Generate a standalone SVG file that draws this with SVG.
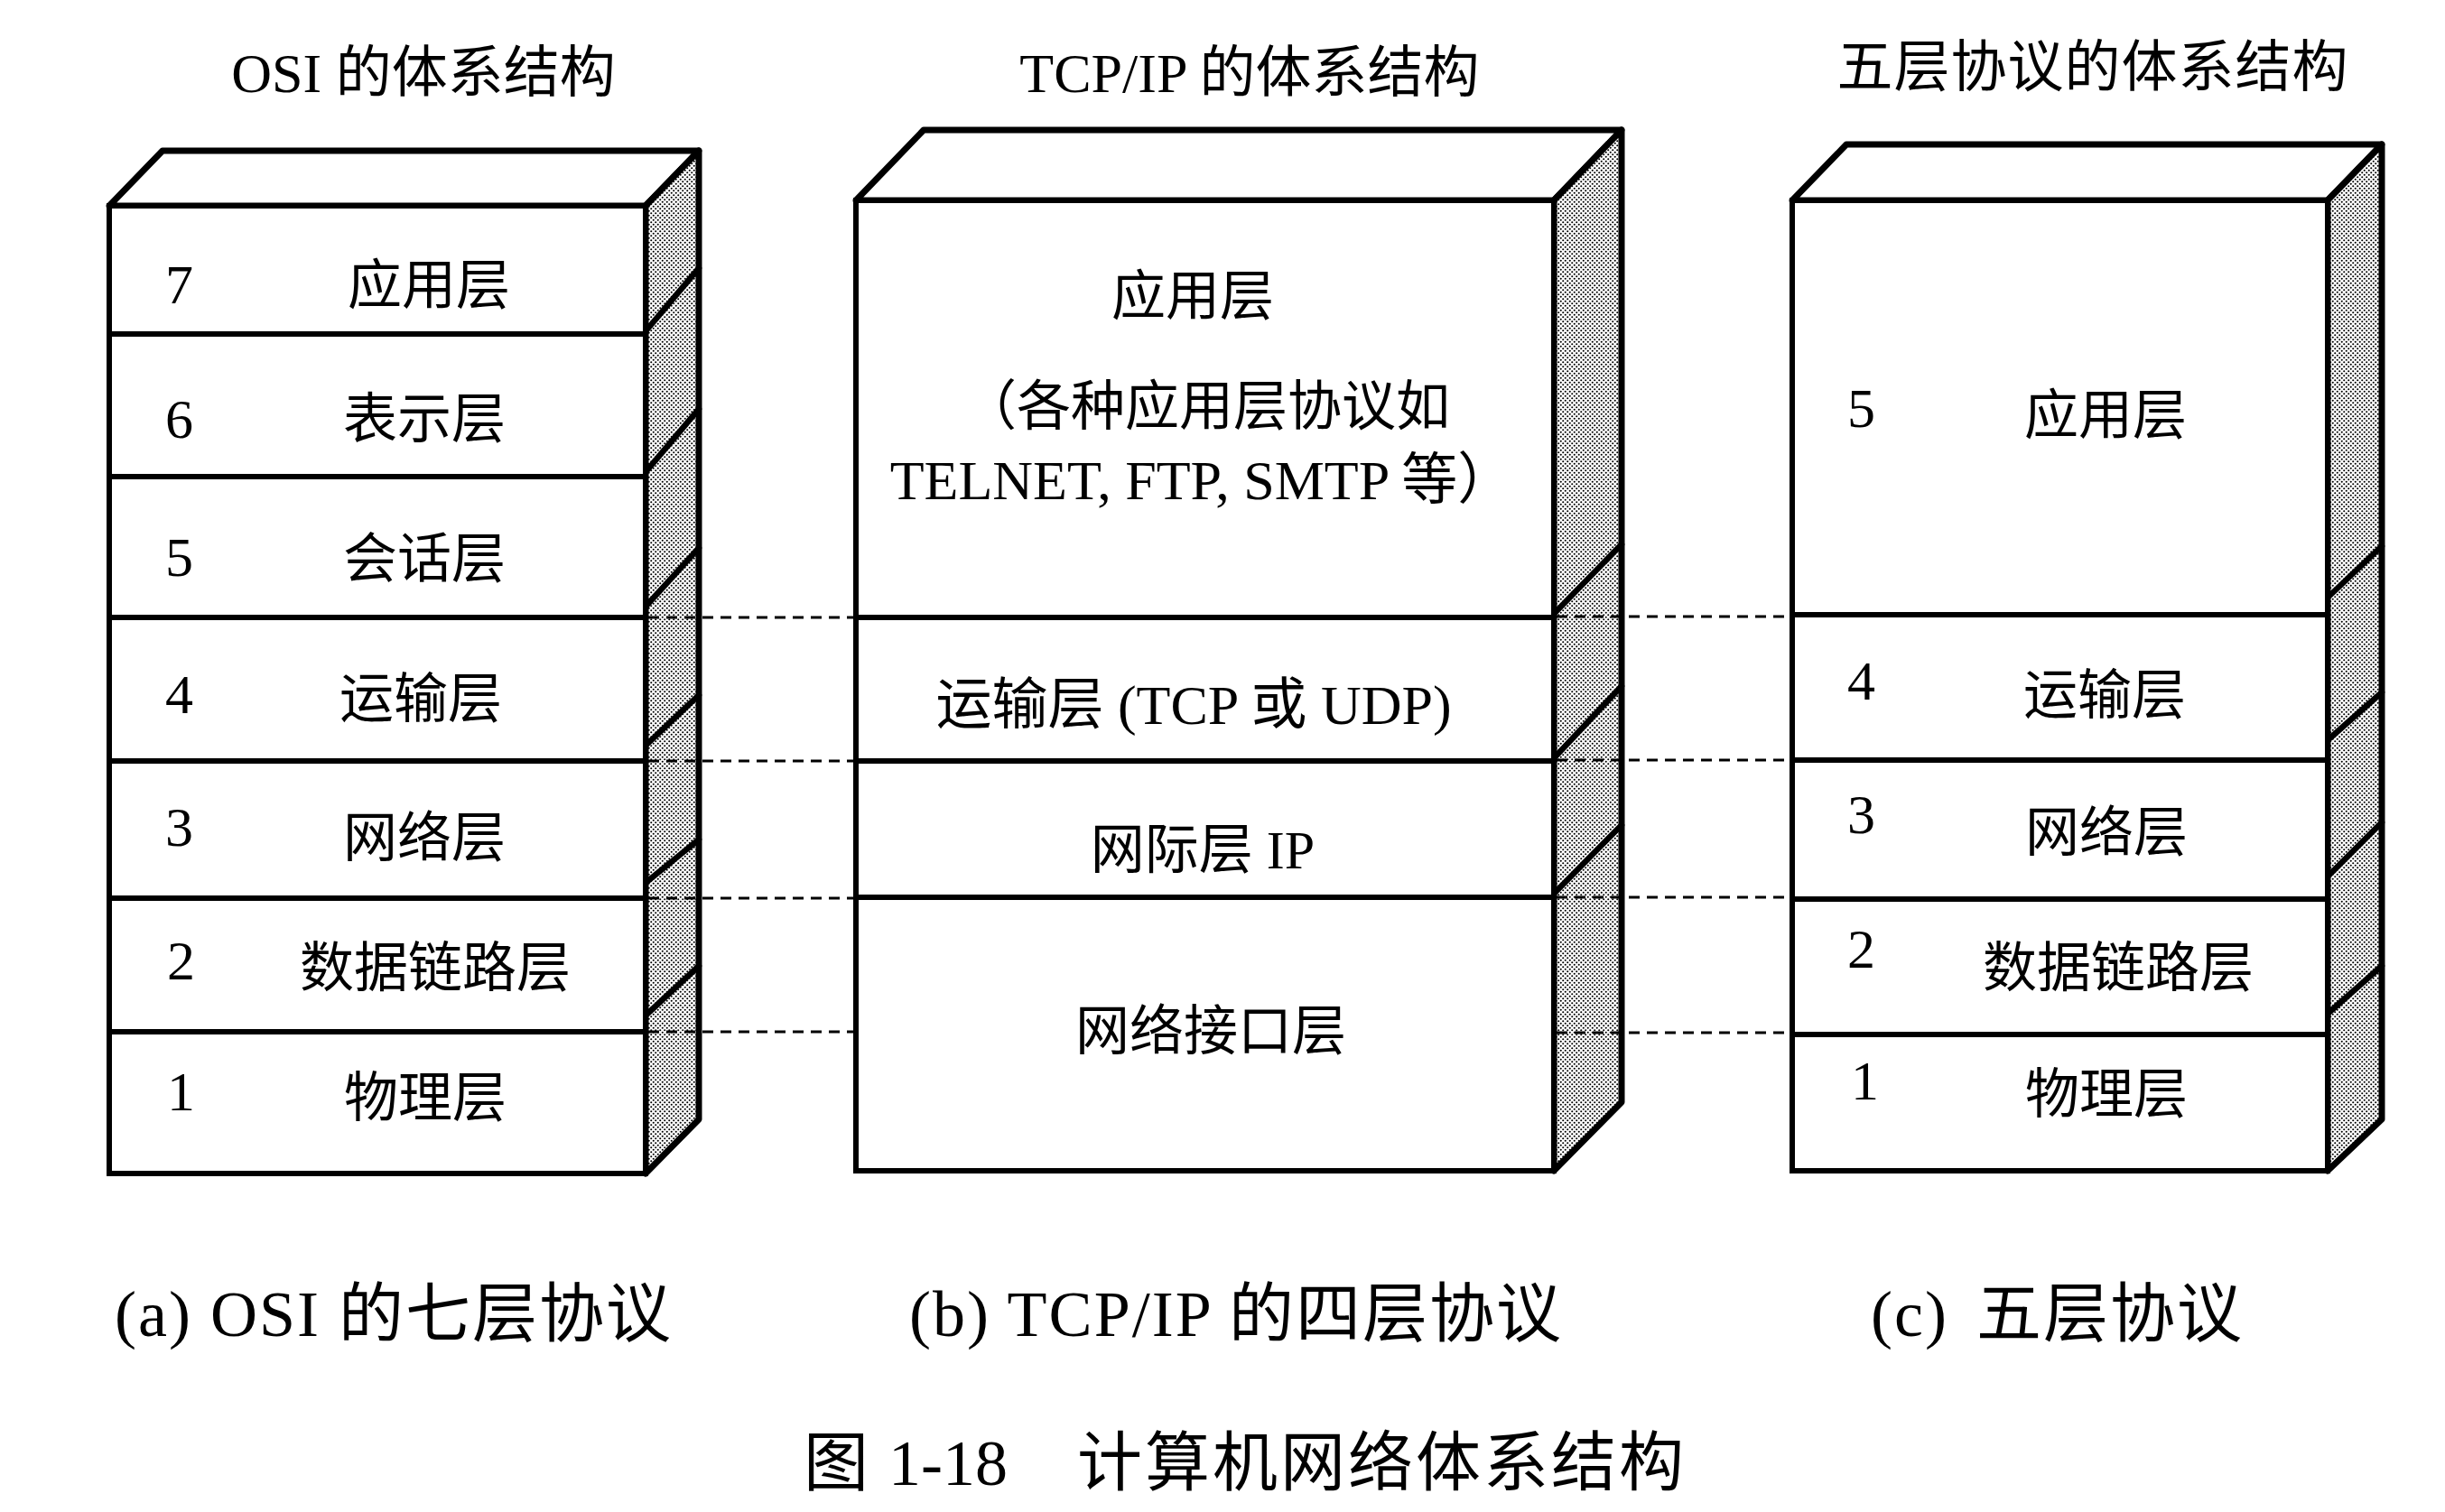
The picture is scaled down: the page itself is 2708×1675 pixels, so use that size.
<svg xmlns="http://www.w3.org/2000/svg" width="2708" height="1675" viewBox="0 0 2708 1675">
<defs>
<pattern id="dots" width="5" height="5" patternUnits="userSpaceOnUse">
<rect width="5" height="5" fill="#fff"/>
<circle cx="1.25" cy="1.25" r="1.05" fill="#000"/>
<circle cx="3.75" cy="3.75" r="1.05" fill="#000"/>
</pattern>
<style>
.face{fill:#fff;stroke:#000;stroke-width:7;stroke-linejoin:round}
.side{fill:url(#dots);stroke:#000;stroke-width:7;stroke-linejoin:round}
.layer{fill:#fff;stroke:#000;stroke-width:6}
.diag{stroke:#000;stroke-width:6.5;stroke-linecap:round}
.t{font-family:"Liberation Serif","Noto Sans CJK SC",serif;font-size:60px;fill:#000}
.c{text-anchor:middle}
.num{font-size:62px}
.title{font-size:62px}
.sub{font-size:72px;letter-spacing:2px}
.dash{stroke:#000;stroke-width:3;stroke-dasharray:12 8;fill:none}
</style>
</defs>
<rect width="2708" height="1675" fill="#fff"/>

<g id="titles">
<text class="t title c" x="469" y="102">OSI 的体系结构</text>
<text class="t title c" x="1384" y="102">TCP/IP 的体系结构</text>
<text class="t title c" x="2318" y="96" style="letter-spacing:1px">五层协议的体系结构</text>
</g>

<g id="osi">
<polygon class="face" points="121,228 180,167 774,167 715,228"/>
<polygon class="side" points="715,228 774,167 774,1240 715,1300"/>
<line class="diag" x1="715" y1="367" x2="774" y2="297"/>
<line class="diag" x1="715" y1="523" x2="774" y2="453"/>
<line class="diag" x1="715" y1="672" x2="774" y2="607"/>
<line class="diag" x1="715" y1="826" x2="774" y2="770"/>
<line class="diag" x1="715" y1="978" x2="774" y2="930"/>
<line class="diag" x1="715" y1="1125" x2="774" y2="1070"/>
<g id="osi-7"><rect class="layer" x="121" y="228" width="594" height="142"/><text class="t num" x="183" y="336">7</text><text class="t c" x="475" y="337">应用层</text></g>
<g id="osi-6"><rect class="layer" x="121" y="370" width="594" height="158"/><text class="t num" x="183" y="485">6</text><text class="t c" x="470" y="485">表示层</text></g>
<g id="osi-5"><rect class="layer" x="121" y="528" width="594" height="156"/><text class="t num" x="183" y="638">5</text><text class="t c" x="470" y="640">会话层</text></g>
<g id="osi-4"><rect class="layer" x="121" y="684" width="594" height="159"/><text class="t num" x="183" y="790">4</text><text class="t c" x="466" y="795">运输层</text></g>
<g id="osi-3"><rect class="layer" x="121" y="843" width="594" height="152"/><text class="t num" x="183" y="937">3</text><text class="t c" x="470" y="949">网络层</text></g>
<g id="osi-2"><rect class="layer" x="121" y="995" width="594" height="148"/><text class="t num" x="185" y="1085">2</text><text class="t c" x="482" y="1093">数据链路层</text></g>
<g id="osi-1"><rect class="layer" x="121" y="1143" width="594" height="157"/><text class="t num" x="185" y="1230">1</text><text class="t c" x="471" y="1237">物理层</text></g>
</g>

<g id="tcpip">
<polygon class="face" points="948,222 1023,144 1796,144 1721,222"/>
<polygon class="side" points="1721,222 1796,144 1796,1221 1721,1297"/>
<line class="diag" x1="1721" y1="680" x2="1796" y2="603"/>
<line class="diag" x1="1721" y1="840" x2="1796" y2="760"/>
<line class="diag" x1="1721" y1="990" x2="1796" y2="914"/>
<g id="tcp-app"><rect class="layer" x="948" y="222" width="773" height="462"/>
<text class="t c" x="1321" y="349">应用层</text>
<text class="t c" x="1336" y="471">（各种应用层协议如</text>
<text class="t c" x="1331" y="553" style="font-size:62px">TELNET, FTP, SMTP 等）</text></g>
<g id="tcp-transport"><rect class="layer" x="948" y="684" width="773" height="159"/><text class="t c" x="1322" y="802" style="font-size:62px">运输层 (TCP 或 UDP)</text></g>
<g id="tcp-internet"><rect class="layer" x="948" y="843" width="773" height="151"/><text class="t c" x="1332" y="962">网际层 IP</text></g>
<g id="tcp-netif"><rect class="layer" x="948" y="994" width="773" height="303"/><text class="t c" x="1341" y="1163">网络接口层</text></g>
</g>

<g id="five">
<polygon class="face" points="1985,222 2045,160 2638,160 2578,222"/>
<polygon class="side" points="2578,222 2638,160 2638,1240 2578,1297"/>
<line class="diag" x1="2578" y1="662" x2="2638" y2="605"/>
<line class="diag" x1="2578" y1="820" x2="2638" y2="767"/>
<line class="diag" x1="2578" y1="971" x2="2638" y2="911"/>
<line class="diag" x1="2578" y1="1123" x2="2638" y2="1070"/>
<g id="five-5"><rect class="layer" x="1985" y="222" width="593" height="459"/><text class="t num" x="2046" y="473">5</text><text class="t c" x="2332" y="481">应用层</text></g>
<g id="five-4"><rect class="layer" x="1985" y="681" width="593" height="161"/><text class="t num" x="2046" y="775">4</text><text class="t c" x="2331" y="791">运输层</text></g>
<g id="five-3"><rect class="layer" x="1985" y="842" width="593" height="154"/><text class="t num" x="2046" y="923">3</text><text class="t c" x="2333" y="943">网络层</text></g>
<g id="five-2"><rect class="layer" x="1985" y="996" width="593" height="150"/><text class="t num" x="2046" y="1072">2</text><text class="t c" x="2346" y="1093">数据链路层</text></g>
<g id="five-1"><rect class="layer" x="1985" y="1146" width="593" height="151"/><text class="t num" x="2050" y="1218">1</text><text class="t c" x="2333" y="1233">物理层</text></g>
</g>

<g id="connectors">
<line class="dash" x1="718" y1="684" x2="948" y2="684"/>
<line class="dash" x1="718" y1="843" x2="948" y2="843"/>
<line class="dash" x1="718" y1="995" x2="948" y2="995"/>
<line class="dash" x1="718" y1="1143" x2="948" y2="1143"/>
<line class="dash" x1="1724" y1="683" x2="1985" y2="683"/>
<line class="dash" x1="1724" y1="842" x2="1985" y2="842"/>
<line class="dash" x1="1724" y1="994" x2="1985" y2="994"/>
<line class="dash" x1="1724" y1="1144" x2="1985" y2="1144"/>
</g>

<g id="captions">
<text class="t sub c" x="436" y="1480">(a) OSI 的七层协议</text>
<text class="t sub c" x="1369" y="1480">(b) TCP/IP 的四层协议</text>
<text class="t sub" y="1480"><tspan x="2072">(c)</tspan><tspan x="2189">五层协议</tspan></text>
<text class="t" y="1645" style="font-size:72px"><tspan x="890">图</tspan><tspan x="984">1-18</tspan><tspan x="1193" style="letter-spacing:3px">计算机网络体系结构</tspan></text>
</g>
</svg>
